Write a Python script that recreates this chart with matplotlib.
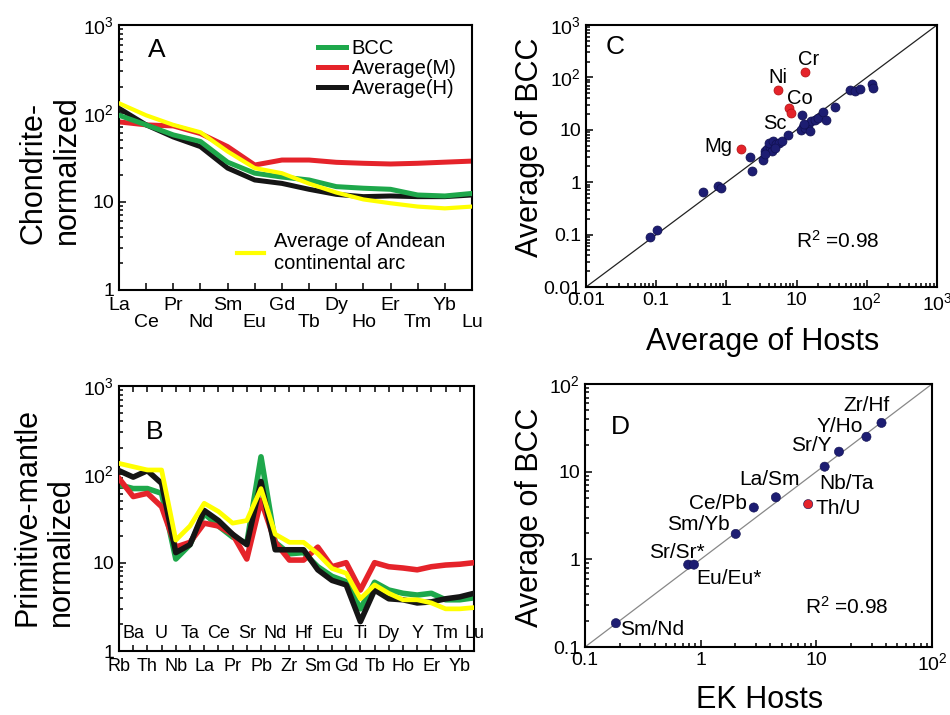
import numpy as np
import matplotlib
matplotlib.use("Agg")
import matplotlib.pyplot as plt
from matplotlib.lines import Line2D
from matplotlib.ticker import NullFormatter, LogLocator

plt.rcParams["font.family"] = ["Liberation Sans", "DejaVu Sans"]
plt.rcParams["mathtext.fontset"] = "custom"
plt.rcParams["mathtext.rm"] = "Liberation Sans"
plt.rcParams["mathtext.it"] = "Liberation Sans:italic"

# ---- panel A: chondrite-normalized REE ----
ree = ["La", "Ce", "Pr", "Nd", "Sm", "Eu", "Gd", "Tb", "Dy", "Ho", "Er", "Tm", "Yb", "Lu"]
ree_bcc = [95, 74, 57, 48, 28, 21, 19, 17.6, 14.8, 14.2, 13.8, 11.9, 11.6, 12.4]
ree_m = [80, 74, 72, 59, 42, 26, 29.6, 29.6, 27.9, 27.2, 26.7, 27.2, 28, 28.8]
ree_h = [114, 74, 54, 42, 24, 17.6, 16.1, 13.8, 12.1, 11.4, 11.6, 11.4, 11.4, 11.9]
ree_andean = [130, 95, 74, 61, 37, 24, 21, 16, 12.7, 10.6, 9.6, 8.8, 8.4, 8.8]

# ---- panel B: primitive-mantle-normalized spider ----
spider = ["Rb", "Ba", "Th", "U", "Nb", "Ta", "La", "Ce", "Pr", "Sr", "Pb", "Nd", "Zr",
          "Hf", "Sm", "Eu", "Gd", "Ti", "Tb", "Dy", "Ho", "Y", "Er", "Tm", "Yb", "Lu"]
sp_bcc = [76, 69, 69, 61, 11, 16, 36, 26, 19.5, 16.6, 158, 17, 12.6, 13, 9, 7, 6.1, 3.0,
          6, 4.9, 4.5, 4.3, 4.5, 3.8, 3.8, 4.0]
sp_m = [90, 56, 61, 43, 15, 17, 28, 26, 21, 11, 51, 17, 10.7, 10.7, 15, 9, 10, 4.9,
        10, 9, 8.7, 8.3, 9, 9.4, 9.6, 10]
sp_h = [110, 93, 110, 79, 13, 16, 39, 30, 21, 16, 83, 14, 14, 14, 8.3, 6.3, 5.6, 2.15,
        4.9, 3.9, 3.8, 3.5, 3.6, 3.9, 4.1, 4.5]
sp_andean = [133, 122, 112, 112, 18, 26, 47, 38, 28, 30, 69, 21, 17, 17, 12.6, 8.6, 7.6, 3.9,
             5.6, 4.5, 3.8, 3.8, 3.5, 3.0, 3.0, 3.1]

# ---- panel C: BCC vs hosts, all elements ----
hosts_c = [0.081, 0.101, 0.47, 0.76, 0.85, 2.2, 2.35, 3.3, 3.5, 3.8, 4.2, 4.4, 4.1, 4.6,
           5.1, 5.6, 6.1, 4.9, 7.6, 12.1, 12.4, 11.7, 13.1, 14.6, 15.4, 16.3, 18.1, 20,
           24, 26.6, 35, 57, 67, 79, 120, 123, 3.6, 12.8]
bcc_c = [0.09, 0.12, 0.64, 0.83, 0.78, 3.0, 1.65, 2.7, 3.9, 4.3, 4.8, 3.9, 5.6, 6.0,
         5.4, 5.7, 6.2, 4.5, 8.0, 19.3, 11.5, 10, 10.7, 12.4, 9.3, 14.5, 15.6, 16.6,
         22, 15.6, 27.5, 57, 56, 59, 75, 62, 3.4, 13]
outl_names = ["Cr", "Ni", "Co", "Sc", "Mg"]
outl_hosts = [13.1, 5.5, 7.8, 8.3, 1.64]
outl_bcc = [129, 58, 26, 20.5, 4.3]
outl_lab_x = [14.6, 5.5, 11.1, 4.9, 0.76]
outl_lab_y = [215, 100, 40, 13.4, 4.9]

# ---- panel D: element ratios ----
ratio_names = ["Sm/Nd", "Sr/Sr*", "Eu/Eu*", "Sm/Yb", "Ce/Pb", "La/Sm", "Th/U",
               "Nb/Ta", "Sr/Y", "Y/Ho", "Zr/Hf"]
ratio_hosts = [0.185, 0.78, 0.875, 2.01, 2.88, 4.47, 8.5, 11.8, 15.7, 27.1, 36.6]
ratio_bcc = [0.187, 0.87, 0.87, 1.95, 3.9, 5.1, 4.26, 11.4, 16.9, 25, 36]
ratio_red = [False, False, False, False, False, False, True, False, False, False, False]
ratio_lab_x = [0.377, 0.62, 1.77, 0.953, 1.42, 3.9, 15.4, 18.2, 9.1, 16, 27]
ratio_lab_y = [0.16, 1.21, 0.61, 2.47, 4.3, 8.06, 3.83, 7.4, 19.7, 32.7, 57.6]

GREEN = "#1ea84b"
RED = "#e5232a"
BLACK = "#151515"
YELLOW = "#ffff00"
NAVY = "#1d1d72"

fig = plt.figure(figsize=(9.5, 7.15), dpi=100)
W, H = 950.0, 715.0


def box(l, t, r, b):
    return [l / W, 1 - b / H, (r - l) / W, (b - t) / H]


def style(ax, top=False):
    for s in ax.spines.values():
        s.set_linewidth(1.5)
    ax.tick_params(which="both", direction="in", labelsize=14, top=top, width=1.1)
    ax.tick_params(which="major", length=5)
    ax.tick_params(which="minor", length=3)


pow_labels = {0.01: "0.01", 0.1: "0.1", 1: "1", 10: "10", 100: "$10^2$", 1000: "$10^3$"}

# panel A
axA = fig.add_axes(box(119, 25, 472, 290))
xa = np.arange(len(ree))
axA.plot(xa, ree_m, color=RED, lw=3.6, zorder=2)
axA.plot(xa, ree_h, color=BLACK, lw=3.6, zorder=3)
axA.plot(xa, ree_bcc, color=GREEN, lw=3.6, zorder=4)
axA.plot(xa, ree_andean, color=YELLOW, lw=3.0, zorder=5)
axA.set_yscale("log")
axA.set_ylim(1, 1000)
axA.set_xlim(0, len(ree) - 1)
style(axA)
axA.set_yticks([1, 10, 100, 1000])
axA.set_yticklabels([pow_labels[v] for v in [1, 10, 100, 1000]])
axA.yaxis.set_minor_formatter(NullFormatter())
axA.set_xticks(xa[::2])
axA.set_xticklabels(ree[::2])
axA.set_xticks(xa[1::2], minor=True)
axA.set_xticklabels(ree[1::2], minor=True)
axA.tick_params(axis="x", which="major", length=5, pad=5)
axA.tick_params(axis="x", which="minor", length=5, pad=17, labelsize=14)
axA.text(0.108, 0.906, "A", transform=axA.transAxes, fontsize=19, ha="center", va="center")
h1 = [Line2D([], [], color=c, lw=3.6) for c in (GREEN, RED, BLACK)]
leg1 = axA.legend(h1, ["BCC", "Average(M)", "Average(H)"], loc="upper left",
                  bbox_to_anchor=(0.565, 0.947), frameon=False, fontsize=14.5,
                  handlelength=1.35, handletextpad=0.3, labelspacing=0.04,
                  borderpad=0, borderaxespad=0)
axA.add_artist(leg1)
axA.legend([Line2D([], [], color=YELLOW, lw=3.0)], ["Average of Andean\ncontinental arc"],
           loc="center left", bbox_to_anchor=(0.335, 0.143), frameon=False, fontsize=14.5,
           handlelength=1.35, handletextpad=0.45, borderpad=0, borderaxespad=0)
fig.text(50 / W, 1 - 170 / H, "Chondrite-\nnormalized", rotation=90, fontsize=22,
         ha="center", va="center", multialignment="left", linespacing=1.15)

# panel B
axB = fig.add_axes(box(119, 386, 474, 651))
xb = np.arange(len(spider))
axB.plot(xb, sp_bcc, color=GREEN, lw=4.0, zorder=2)
axB.plot(xb, sp_m, color=RED, lw=4.0, zorder=3)
axB.plot(xb, sp_h, color=BLACK, lw=4.0, zorder=4)
axB.plot(xb, sp_andean, color=YELLOW, lw=3.4, zorder=5)
axB.set_yscale("log")
axB.set_ylim(1, 1000)
axB.set_xlim(0, len(spider) - 1)
style(axB, top=True)
axB.set_yticks([1, 10, 100, 1000])
axB.set_yticklabels([pow_labels[v] for v in [1, 10, 100, 1000]])
axB.yaxis.set_minor_formatter(NullFormatter())
axB.set_xticks(xb[::2])
axB.set_xticklabels(spider[::2])
axB.set_xticks(xb[1::2], minor=True)
axB.set_xticklabels(spider[1::2], minor=True)
axB.tick_params(axis="x", which="both", length=4, labelsize=13)
axB.tick_params(axis="x", which="major", pad=5)
axB.tick_params(axis="x", which="minor", pad=-19)
for lab in axB.get_xticklabels(minor=True):
    lab.set_zorder(6)
axB.text(0.101, 0.826, "B", transform=axB.transAxes, fontsize=19, ha="center", va="center")
fig.text(44 / W, 1 - 517 / H, "Primitive-mantle\nnormalized", rotation=90, fontsize=22,
         ha="center", va="center", multialignment="left", linespacing=1.15)

# panel C
axC = fig.add_axes(box(586, 25, 937, 287))
lim_c = [0.01, 1000]
axC.plot(lim_c, lim_c, color="#222222", lw=0.9, zorder=1)
axC.scatter(hosts_c, bcc_c, s=42, color=NAVY, edgecolors="#101050", linewidths=0.5, zorder=3)
axC.scatter(outl_hosts, outl_bcc, s=42, color=RED, edgecolors="#b01010", linewidths=0.5, zorder=3)
for n, lx, ly in zip(outl_names, outl_lab_x, outl_lab_y):
    axC.text(lx, ly, n, fontsize=14.5, ha="center", va="center")
axC.set_xscale("log")
axC.set_yscale("log")
axC.set_xlim(lim_c)
axC.set_ylim(lim_c)
style(axC)
tc = [0.01, 0.1, 1, 10, 100, 1000]
axC.set_xticks(tc)
axC.set_xticklabels([pow_labels[v] for v in tc])
axC.set_yticks(tc)
axC.set_yticklabels([pow_labels[v] for v in tc])
axC.xaxis.set_minor_locator(LogLocator(subs=np.arange(2, 10)))
axC.yaxis.set_minor_locator(LogLocator(subs=np.arange(2, 10)))
axC.xaxis.set_minor_formatter(NullFormatter())
axC.yaxis.set_minor_formatter(NullFormatter())
axC.text(0.083, 0.916, "C", transform=axC.transAxes, fontsize=19, ha="center", va="center")
axC.text(0.718, 0.176, "R$^2$ =0.98", transform=axC.transAxes, fontsize=15, ha="center", va="center")
fig.text(530 / W, 1 - 147 / H, "Average of BCC", rotation=90, fontsize=22, ha="center", va="center")
fig.text(763 / W, 1 - 342 / H, "Average of Hosts", fontsize=22, ha="center", va="center")

# panel D
axD = fig.add_axes(box(585, 384, 932, 647))
lim_d = [0.1, 100]
axD.plot(lim_d, lim_d, color="#888888", lw=0.9, zorder=1)
cols = [RED if r else NAVY for r in ratio_red]
axD.scatter(ratio_hosts, ratio_bcc, s=44, color=cols, edgecolors="#101050", linewidths=0.4, zorder=3)
for n, lx, ly in zip(ratio_names, ratio_lab_x, ratio_lab_y):
    axD.text(lx, ly, n, fontsize=15, ha="center", va="center")
axD.set_xscale("log")
axD.set_yscale("log")
axD.set_xlim(lim_d)
axD.set_ylim(lim_d)
style(axD)
td = [0.1, 1, 10, 100]
axD.set_xticks(td)
axD.set_xticklabels([pow_labels[v] for v in td])
axD.set_yticks(td)
axD.set_yticklabels([pow_labels[v] for v in td])
axD.xaxis.set_minor_locator(LogLocator(subs=np.arange(2, 10)))
axD.yaxis.set_minor_locator(LogLocator(subs=np.arange(2, 10)))
axD.xaxis.set_minor_formatter(NullFormatter())
axD.yaxis.set_minor_formatter(NullFormatter())
axD.text(0.101, 0.837, "D", transform=axD.transAxes, fontsize=19, ha="center", va="center")
axD.text(0.755, 0.152, "R$^2$ =0.98", transform=axD.transAxes, fontsize=15, ha="center", va="center")
fig.text(530 / W, 1 - 517 / H, "Average of BCC", rotation=90, fontsize=22, ha="center", va="center")
fig.text(760 / W, 1 - 700 / H, "EK Hosts", fontsize=22, ha="center", va="center")

fig.savefig("out.png", dpi=100)
